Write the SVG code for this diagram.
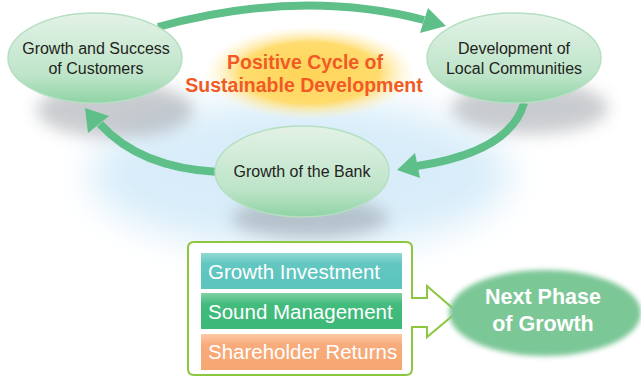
<svg xmlns="http://www.w3.org/2000/svg" width="641" height="377" viewBox="0 0 641 377">
  <defs>
    <filter id="blurBig" x="-50%" y="-50%" width="200%" height="200%"><feGaussianBlur stdDeviation="18"/></filter>
    <filter id="blurMid" x="-50%" y="-50%" width="200%" height="200%"><feGaussianBlur stdDeviation="8"/></filter>
    <filter id="blurSoft" x="-20%" y="-20%" width="140%" height="140%"><feGaussianBlur stdDeviation="2.5"/></filter>
    <radialGradient id="glowYellow" cx="0.5" cy="0.5" r="0.5">
      <stop offset="0" stop-color="#ffd457"/>
      <stop offset="0.65" stop-color="#ffdc6e"/>
      <stop offset="1" stop-color="#fff3c8" stop-opacity="0"/>
    </radialGradient>
    <linearGradient id="nodeFill" x1="0" y1="0" x2="0" y2="1">
      <stop offset="0" stop-color="#e3f2e7"/>
      <stop offset="0.7" stop-color="#bde4c8"/>
      <stop offset="1" stop-color="#8fd3a5"/>
    </linearGradient>
    <linearGradient id="gTeal" x1="0" y1="0" x2="0" y2="1">
      <stop offset="0" stop-color="#93d9d4"/>
      <stop offset="0.3" stop-color="#62c7c0"/>
      <stop offset="1" stop-color="#5bc4bd"/>
    </linearGradient>
    <linearGradient id="gGreen" x1="0" y1="0" x2="0" y2="1">
      <stop offset="0" stop-color="#7fd1a3"/>
      <stop offset="0.3" stop-color="#43bc7e"/>
      <stop offset="1" stop-color="#3cb878"/>
    </linearGradient>
    <linearGradient id="gOrange" x1="0" y1="0" x2="0" y2="1">
      <stop offset="0" stop-color="#fccaa6"/>
      <stop offset="0.3" stop-color="#f8ab7b"/>
      <stop offset="1" stop-color="#f6a671"/>
    </linearGradient>
    <style>
      .node { fill: url(#nodeFill); stroke: #b5dfc2; stroke-width: 1.5; }
      .nodeText { font-family: "Liberation Sans", Arial, sans-serif; font-size: 16px; fill: #231f20; text-anchor: middle; }
      .shadow { fill: #8a8f96; opacity: 0.45; }
      .band { fill: none; stroke: #5fbf88; stroke-width: 8; }
      .head { fill: #5fbf88; }
      .title { font-family: "Liberation Sans", Arial, sans-serif; font-size: 19.5px; font-weight: bold; fill: #f15a24; text-anchor: middle; }
      .barText { font-family: "Liberation Sans", Arial, sans-serif; font-size: 20.5px; fill: #ffffff; }
      .nextText { font-family: "Liberation Sans", Arial, sans-serif; font-size: 21.5px; font-weight: bold; fill: #ffffff; text-anchor: middle; }
    </style>
  </defs>

  <rect x="0" y="0" width="641" height="377" fill="#ffffff"/>

  <!-- background glows and shadows -->
  <g id="background">
    <ellipse cx="300" cy="175" rx="210" ry="75" fill="#d8edf9" filter="url(#blurBig)"/>
    <ellipse cx="115" cy="110" rx="78" ry="28" class="shadow" filter="url(#blurMid)"/>
    <ellipse cx="530" cy="108" rx="78" ry="26" class="shadow" filter="url(#blurMid)"/>
    <ellipse cx="310" cy="218" rx="78" ry="20" class="shadow" filter="url(#blurMid)"/>
    <ellipse cx="310" cy="73" rx="106" ry="47" fill="url(#glowYellow)"/>
  </g>

  <g id="connectors">
    <path class="band" d="M 158 27 Q 300 -12 424 20"/>
    <polygon class="head" points="420,33 428,8 446,26"/>
    <path class="band" d="M 524 103 Q 510 152 417 166"/>
    <polygon class="head" points="420,178 415,153 397,170"/>
    <path class="band" d="M 218 172 Q 140 168 100 124"/>
    <polygon class="head" points="109,116 88,133 85,108"/>
  </g>

  <g id="title">
    <text class="title" x="305" y="69">Positive Cycle of</text>
    <text class="title" x="304" y="92">Sustainable Development</text>
  </g>

  <g id="node-customers">
    <ellipse class="node" cx="95" cy="58" rx="87" ry="45"/>
    <text class="nodeText" x="96" y="54">Growth and Success</text>
    <text class="nodeText" x="96" y="74">of Customers</text>
  </g>

  <g id="node-communities">
    <ellipse class="node" cx="514" cy="58" rx="87" ry="45"/>
    <text class="nodeText" x="514" y="54">Development of</text>
    <text class="nodeText" x="514" y="74">Local Communities</text>
  </g>

  <g id="node-bank">
    <ellipse class="node" cx="302" cy="171.5" rx="87" ry="45.5"/>
    <text class="nodeText" x="302" y="177">Growth of the Bank</text>
  </g>

  <g id="node-policies">
    <path d="M 194 242 H 406 Q 412 242 412 248 V 298 H 427 V 286 L 457 312 L 427 337 V 327 H 412 V 369 Q 412 375 406 375 H 194 Q 188 375 188 369 V 248 Q 188 242 194 242 Z" fill="#ffffff" stroke="#8dc63f" stroke-width="2"/>
    <rect x="201" y="253" width="201" height="36" fill="url(#gTeal)"/>
    <text class="barText" x="208" y="279">Growth Investment</text>
    <rect x="201" y="293" width="201" height="36" fill="url(#gGreen)"/>
    <text class="barText" x="208" y="319">Sound Management</text>
    <rect x="201" y="334" width="201" height="36" fill="url(#gOrange)"/>
    <text class="barText" x="208" y="359">Shareholder Returns</text>
  </g>

  <g id="node-next">
    <ellipse cx="545" cy="313" rx="96" ry="43" fill="#7cc796" filter="url(#blurSoft)"/>
    <text class="nextText" x="543" y="304">Next Phase</text>
    <text class="nextText" x="543" y="331">of Growth</text>
  </g>
</svg>
